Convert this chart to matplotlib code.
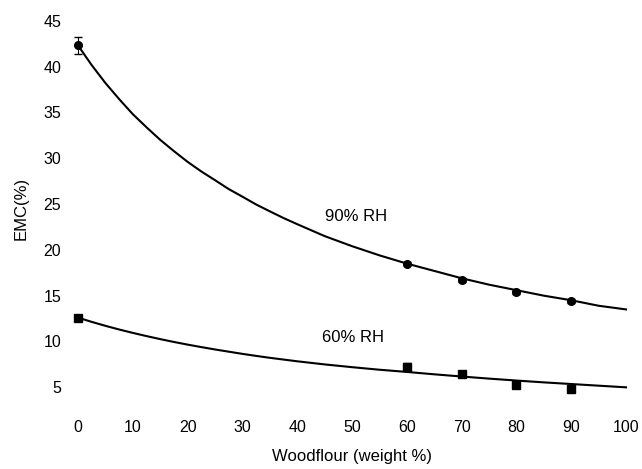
import matplotlib
matplotlib.use("Agg")
import matplotlib.pyplot as plt

plt.rcParams['font.family'] = ['Liberation Sans', 'DejaVu Sans']

# measured points
woodflour = [0, 60, 70, 80, 90]
emc_90 = [42.3, 18.5, 16.7, 15.4, 14.4]
err_90 = [0.9, 0.2, 0.2, 0.2, 0.2]
emc_60 = [12.6, 7.2, 6.5, 5.3, 4.8]
err_60 = [0.1, 0.4, 0.2, 0.2, 0.2]

# fitted curves
curve_x = [0, 2.5, 5, 7.5, 10, 12.5, 15, 17.5, 20, 22.5, 25, 27.5, 30, 32.5, 35, 37.5, 40,
           45, 50, 55, 60, 65, 70, 75, 80, 85, 90, 95, 100]
curve_90 = [42.3, 40.15, 38.2, 36.45, 34.8, 33.37, 32.0, 30.77, 29.6, 28.55, 27.6, 26.63,
            25.8, 24.95, 24.2, 23.47, 22.8, 21.5, 20.4, 19.4, 18.5, 17.7, 16.9, 16.2,
            15.6, 15.0, 14.5, 13.9, 13.5]
curve_60 = [12.6, 12.14, 11.71, 11.31, 10.94, 10.59, 10.26, 9.95, 9.66, 9.39, 9.13, 8.89,
            8.65, 8.43, 8.22, 8.03, 7.84, 7.5, 7.2, 6.92, 6.68, 6.42, 6.18, 5.95,
            5.74, 5.54, 5.36, 5.18, 5.0]

x_ticks = list(range(0, 101, 10))
y_ticks = list(range(5, 46, 5))

fig = plt.figure(figsize=(6.42, 4.69), dpi=100)
ax = fig.add_axes([0.1215, 0.1546, 0.8536, 0.8013])

ax.plot(curve_x, curve_90, color='black', lw=1.5, clip_on=False)
ax.plot(curve_x, curve_60, color='black', lw=1.5, clip_on=False)
ax.errorbar(woodflour, emc_90, yerr=err_90, fmt='o', color='black', ms=5.5,
            capsize=3, elinewidth=0.8, clip_on=False)
ax.errorbar(woodflour, emc_60, yerr=err_60, fmt='s', color='black', ms=5.5,
            capsize=3, elinewidth=0.8, clip_on=False)

ax.text(50.7, 23.6, '90% RH', fontsize=12, ha='center', va='center')
ax.text(50.2, 10.4, '60% RH', fontsize=12, ha='center', va='center')

ax.set_xlim(0, 100)
ax.set_ylim(4, 45)
ax.set_xticks(x_ticks)
ax.set_yticks(y_ticks)
ax.tick_params(length=0, labelsize=11.5)
ax.tick_params(axis='y', pad=12)
ax.tick_params(axis='x', pad=17)
for s in ax.spines.values():
    s.set_visible(False)

ax.set_xlabel('Woodflour (weight %)', fontsize=12, labelpad=10)
ax.set_ylabel('EMC(%)', fontsize=12, labelpad=11)

fig.savefig('out.png', dpi=100)
